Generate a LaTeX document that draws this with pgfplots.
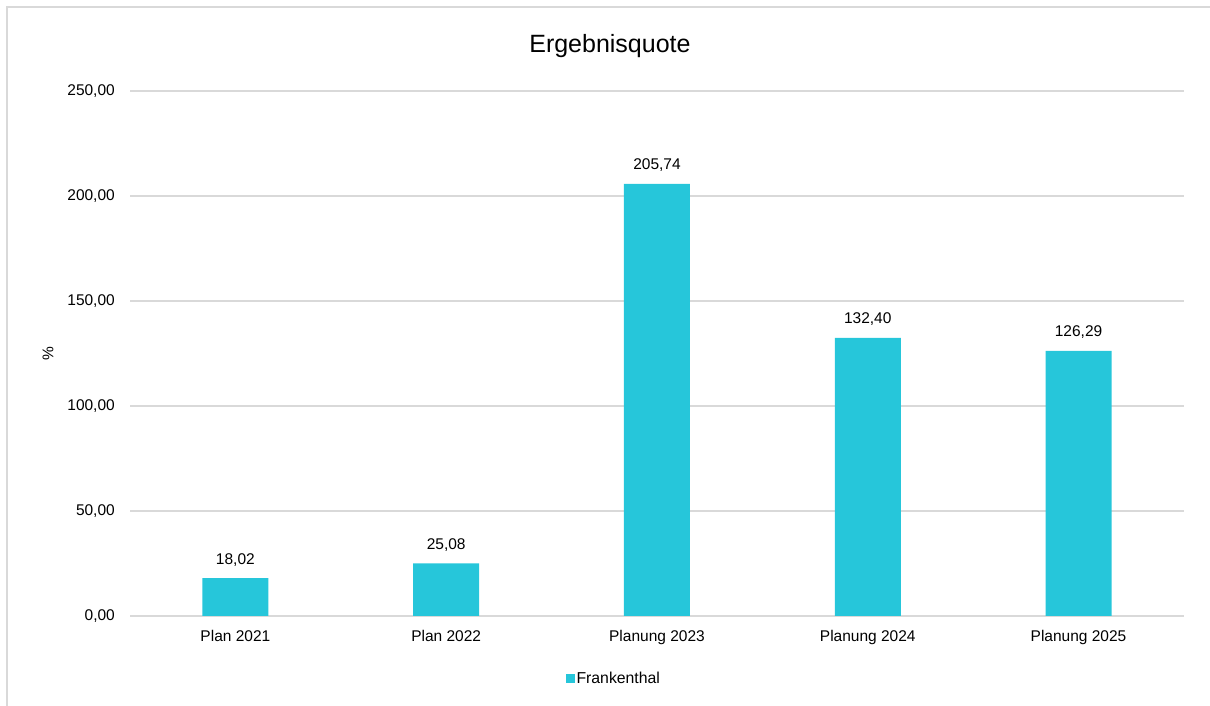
\documentclass[border=0pt]{standalone}
\usepackage{pgfplots}
\pgfplotsset{compat=1.18}
\usepackage{fontspec}
\setmainfont{Liberation Sans}
\definecolor{barc}{HTML}{26C6DA}
\definecolor{gridc}{HTML}{D9D9D9}
\begin{document}
\begin{tikzpicture}
\path[use as bounding box] (0,0) rectangle (1210pt,706pt);
\draw[gridc, line width=2pt] (7pt,0pt) -- (7pt,699pt) -- (1210pt,699pt);
\begin{axis}[
  at={(130pt,90pt)}, anchor=south west,
  scale only axis, width=1054pt, height=525pt,
  ybar, bar width=66pt,
  xmin=-0.5, xmax=4.5, ymin=0, ymax=250,
  xtick=data,
  xticklabels={Plan 2021, Plan 2022, Planung 2023, Planung 2024, Planung 2025},
  ytick={0,50,100,150,200,250},
  major tick length=0pt,
  axis line style={draw=none},
  ymajorgrids, grid style={gridc, line width=1.3pt},
  /pgf/number format/assume math mode=true,
  /pgf/number format/.cd, fixed, fixed zerofill, precision=2, use comma, 1000 sep={},
  /pgfplots/.cd,
  yticklabel style={font=\fontsize{15.5}{18}\selectfont, inner sep=0pt, anchor=east, xshift=-15pt},
  xticklabel style={font=\fontsize{15.5}{18}\selectfont, inner sep=0pt, anchor=base, yshift=-26pt},
  ylabel={\%},
  every axis y label/.style={at={(axis description cs:-0.0778,0.5)}, rotate=90, anchor=center, font=\fontsize{15.5}{18}\selectfont},
  title={Ergebnisquote},
  title style={at={(axis description cs:0.4554,1)}, anchor=base, yshift=32pt, font=\fontsize{25}{30}\selectfont},
  nodes near coords,
  every node near coord/.append style={font=\fontsize{15.5}{18}\selectfont, anchor=base, inner sep=0pt, yshift=14pt, text=black},
  legend style={at={(axis description cs:0.459,-0.12)}, anchor=center, draw=none, fill=none, font=\fontsize{15.8}{18}\selectfont, inner sep=0pt},
  legend image code/.code={\fill[barc] (0pt,-4.5pt) rectangle (9pt,4.5pt);},
  legend cell align=left,
]
\addplot[fill=barc, draw=none] coordinates {(0,18.02) (1,25.08) (2,205.74) (3,132.40) (4,126.29)};
\addlegendentry{Frankenthal}
\end{axis}
\end{tikzpicture}
\end{document}
